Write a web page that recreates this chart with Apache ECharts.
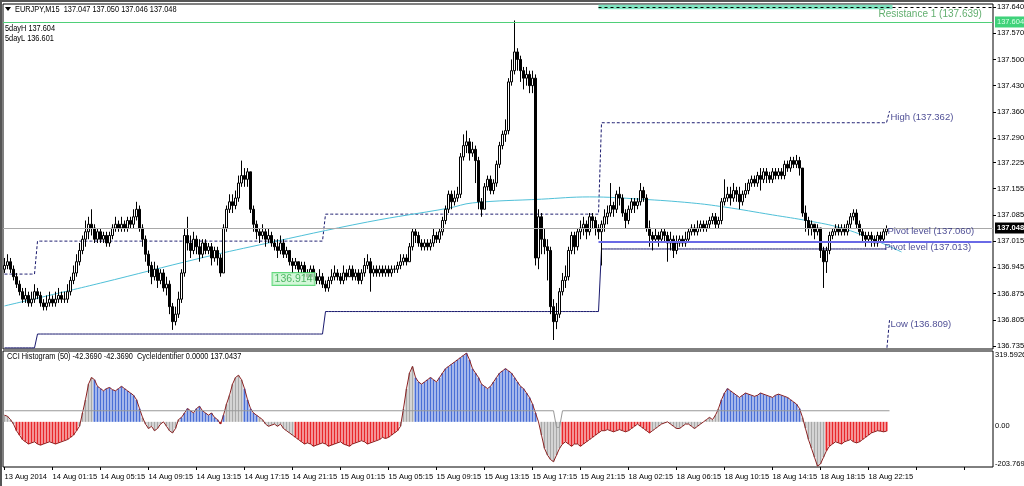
<!DOCTYPE html>
<html><head><meta charset="utf-8">
<script src="https://cdn.jsdelivr.net/npm/echarts@6/dist/echarts.min.js"></script>
<style>html,body{margin:0;padding:0;background:#fff}#c{width:1024px;height:486px}</style>
</head><body><div id="c"></div>
<script>
// ---- price bars (M15), open of each bar = previous close ----
const firstOpen = 136.94;
const closes = [
136.95,136.96,136.94,136.92,136.90,136.88,136.86,136.87,136.85,136.86,
136.88,136.87,136.85,136.84,136.85,136.86,136.85,136.86,136.87,136.86,
136.86,136.88,136.91,136.93,136.96,136.99,137.02,137.04,137.06,137.05,
137.02,137.04,137.02,137.03,137.01,137.03,137.05,137.06,137.05,137.06,
137.05,137.07,137.06,137.08,137.10,137.05,137.02,136.98,136.95,136.92,
136.94,136.91,136.93,136.89,136.90,136.84,136.80,136.82,136.86,136.93,
137.03,137.01,136.99,137.02,137.00,136.98,137.01,136.99,137.00,136.97,
136.99,136.97,136.93,137.05,137.10,137.12,137.11,137.13,137.17,137.19,
137.18,137.20,137.10,137.06,137.04,137.03,137.04,137.02,137.03,137.01,
137.00,136.99,137.01,136.98,136.99,136.96,136.95,136.96,136.94,136.95,
136.93,136.92,136.94,136.92,136.91,136.92,136.90,136.89,136.91,136.92,
136.93,136.92,136.91,136.93,136.92,136.94,136.92,136.93,136.91,136.93,
136.95,136.96,136.93,136.94,136.93,136.94,136.93,136.94,136.93,136.94,
136.94,136.95,136.96,136.97,136.96,137.00,137.04,137.03,137.01,137.00,
137.01,137.00,137.01,137.03,137.02,137.04,137.07,137.10,137.14,137.12,
137.13,137.14,137.24,137.27,137.28,137.25,137.26,137.23,137.12,137.10,
137.16,137.18,137.15,137.17,137.22,137.27,137.30,137.31,137.44,137.47,
137.52,137.50,137.47,137.45,137.46,137.43,137.45,136.97,137.08,137.02,
137.00,136.99,136.84,136.80,136.82,136.88,136.91,136.92,136.99,137.03,
137.00,137.04,137.05,137.06,137.04,137.08,137.07,137.05,137.04,137.06,
137.08,137.09,137.11,137.10,137.14,137.13,137.09,137.07,137.10,137.12,
137.11,137.12,137.15,137.13,137.05,137.03,137.02,137.03,137.02,137.04,
137.03,137.01,137.02,136.99,137.01,137.02,137.01,137.02,137.04,137.05,
137.04,137.05,137.06,137.05,137.06,137.07,137.08,137.06,137.07,137.12,
137.13,137.14,137.13,137.15,137.14,137.12,137.14,137.15,137.17,137.18,
137.17,137.19,137.18,137.20,137.19,137.18,137.20,137.19,137.20,137.19,
137.22,137.21,137.23,137.22,137.23,137.21,137.09,137.07,137.05,137.06,
137.04,137.05,136.99,136.96,136.99,137.03,137.04,137.05,137.04,137.05,
137.04,137.06,137.08,137.09,137.06,137.04,137.03,137.02,137.03,137.02,
137.01,137.03,137.02,137.04,137.048];
const highs = [
136.97,136.98,136.97,136.95,136.93,136.91,136.89,136.89,136.88,136.88,
136.90,136.89,136.88,136.86,136.87,136.88,136.87,136.88,136.89,136.88,
136.88,136.90,136.92,136.95,136.98,137.01,137.03,137.07,137.08,137.10,
137.06,137.05,137.05,137.04,137.04,137.04,137.06,137.08,137.07,137.08,
137.07,137.08,137.08,137.10,137.12,137.11,137.06,137.03,136.99,136.96,
136.96,136.95,136.94,136.94,136.92,136.91,136.85,136.84,136.88,136.94,
137.05,137.08,137.03,137.04,137.03,137.02,137.02,137.02,137.01,137.01,
137.00,137.00,136.98,137.06,137.11,137.14,137.14,137.15,137.19,137.23,
137.21,137.21,137.20,137.11,137.07,137.05,137.06,137.05,137.05,137.04,
137.02,137.02,137.03,137.02,137.00,136.99,136.97,136.97,136.96,136.96,
136.96,136.94,136.95,136.95,136.93,136.94,136.93,136.91,136.92,136.94,
136.95,136.94,136.93,136.95,136.94,136.95,136.95,136.94,136.94,136.94,
136.97,136.98,136.97,136.95,136.95,136.95,136.95,136.95,136.95,136.95,
136.95,136.96,136.98,136.98,136.98,137.01,137.05,137.05,137.04,137.02,
137.02,137.02,137.02,137.05,137.04,137.05,137.08,137.11,137.15,137.15,
137.15,137.16,137.25,137.30,137.31,137.29,137.28,137.27,137.24,137.13,
137.17,137.19,137.19,137.18,137.23,137.28,137.31,137.34,137.45,137.50,
137.604,137.53,137.51,137.48,137.48,137.47,137.47,137.46,137.10,137.09,
137.05,137.02,137.00,136.86,136.85,136.89,136.93,136.95,137.00,137.04,
137.04,137.05,137.07,137.08,137.07,137.09,137.09,137.08,137.06,137.07,
137.10,137.11,137.17,137.12,137.15,137.16,137.14,137.10,137.11,137.13,
137.13,137.13,137.17,137.16,137.14,137.07,137.04,137.05,137.04,137.05,
137.05,137.04,137.04,137.03,137.03,137.03,137.03,137.04,137.05,137.06,
137.06,137.07,137.07,137.07,137.07,137.08,137.09,137.09,137.08,137.13,
137.18,137.16,137.16,137.17,137.16,137.16,137.15,137.17,137.18,137.19,
137.19,137.20,137.21,137.21,137.21,137.20,137.21,137.21,137.21,137.21,
137.23,137.23,137.24,137.24,137.245,137.24,137.21,137.11,137.08,137.07,
137.06,137.06,137.05,137.00,137.00,137.04,137.05,137.06,137.06,137.06,
137.06,137.07,137.09,137.10,137.10,137.07,137.05,137.04,137.04,137.04,
137.03,137.04,137.04,137.05,137.057];
const lows = [
136.93,136.94,136.93,136.91,136.89,136.87,136.85,136.85,136.84,136.84,
136.85,136.86,136.84,136.83,136.83,136.84,136.84,136.84,136.85,136.85,
136.85,136.85,136.87,136.90,136.92,136.95,136.98,137.00,137.02,137.03,
137.01,137.01,137.01,137.01,137.00,137.00,137.02,137.04,137.04,137.04,
137.04,137.04,137.05,137.05,137.07,137.04,137.00,136.96,136.93,136.90,
136.91,136.89,136.90,136.88,136.87,136.82,136.778,136.79,136.81,136.85,
136.92,136.99,136.97,136.98,136.98,136.96,136.97,136.98,136.98,136.95,
136.96,136.95,136.92,136.93,137.04,137.09,137.09,137.10,137.12,137.16,
137.16,137.16,137.09,137.04,137.02,137.01,137.02,137.00,137.01,137.00,
136.99,136.97,136.98,136.97,136.97,136.95,136.93,136.94,136.93,136.93,
136.92,136.91,136.91,136.91,136.90,136.90,136.89,136.88,136.88,136.90,
136.91,136.91,136.90,136.90,136.91,136.92,136.91,136.91,136.90,136.90,
136.92,136.94,136.88,136.92,136.92,136.92,136.92,136.92,136.92,136.92,
136.93,136.93,136.94,136.95,136.95,136.96,136.99,137.01,137.00,136.99,
136.99,136.99,136.99,137.00,137.01,137.01,137.03,137.06,137.09,137.10,
137.11,137.12,137.13,137.23,137.25,137.23,137.24,137.17,137.10,137.08,
137.10,137.15,137.14,137.14,137.16,137.21,137.26,137.28,137.30,137.43,
137.46,137.47,137.44,137.42,137.43,137.41,137.41,136.95,136.94,136.98,
136.98,136.91,136.82,136.751,136.78,136.81,136.87,136.89,136.91,136.98,
136.98,136.99,137.02,137.03,137.02,137.03,137.05,137.03,137.02,136.95,
137.04,137.06,137.08,137.08,137.09,137.11,137.08,137.05,137.06,137.09,
137.09,137.10,137.11,137.12,137.04,137.00,136.99,137.01,137.00,137.01,
137.01,136.96,136.99,136.97,136.98,137.00,137.00,137.00,137.01,137.03,
137.03,137.03,137.04,137.04,137.04,137.05,137.06,137.05,137.05,137.06,
137.11,137.12,137.11,137.12,137.12,137.10,137.11,137.13,137.14,137.16,
137.16,137.16,137.15,137.17,137.17,137.17,137.17,137.18,137.18,137.18,
137.18,137.20,137.20,137.21,137.21,137.19,137.08,137.04,137.03,137.03,
137.02,137.03,136.97,136.89,136.93,136.98,137.02,137.03,137.03,137.03,
137.03,137.03,137.05,137.07,137.05,137.03,137.01,137.00,137.01,137.00,
137.00,137.00,137.01,137.01,137.03];

// ---- time axis ----
const barCount = 330;           // bars + empty right margin
const tickEvery = 16;
const timeTicks = ["13 Aug 2014","14 Aug 01:15","14 Aug 05:15","14 Aug 09:15","14 Aug 13:15","14 Aug 17:15","14 Aug 21:15","15 Aug 01:15","15 Aug 05:15","15 Aug 09:15","15 Aug 13:15","15 Aug 17:15","15 Aug 21:15","18 Aug 02:15","18 Aug 06:15","18 Aug 10:15","18 Aug 14:15","18 Aug 18:15","18 Aug 22:15"];

// ---- price axis ----
const priceTicks = [137.640,137.570,137.500,137.430,137.360,137.290,137.225,137.155,137.085,137.015,136.945,136.875,136.805,136.735];
const priceMin = 136.727, priceMax = 137.648;
const lastPrice = 137.048;
const fiveDayHigh = 137.604, fiveDayLow = 136.601;
const resistance1 = 137.639;
const pivotA = 137.060, pivotB = 137.013;
const dayHighLabel = 137.362, dayLowLabel = 136.809;
const markedLow = 136.914;

// ---- daily level step lines ----
const dayStarts = [0, 11, 107, 199];
const dayHighLevels = [136.927, 137.015, 137.087, 137.331];
const dayLowLevels = [136.730, 136.767, 136.827, 136.994];

// ---- smooth trend curve (bar index, price) ----
const trendPoints = [[0,136.842],[32,136.903],[65,136.969],[85,137.005],[121,137.066],[148,137.103],[156,137.117],[179,137.127],[195,137.133],[212,137.127],[229,137.117],[240,137.106],[256,137.085],[268,137.069],[279,137.050],[290,137.018],[299,136.986]];

// ---- CCI histogram (50) ----
const cciValues = [
30,25,10,-10,
-40,-60,-80,-90,-100,-95,-90,-100,-105,-100,-95,-90,-95,-100,-95,-90,-85,-80,-70,-60,-40,-20,
40,100,170,200,190,
160,150,140,150,155,145,140,150,160,150,140,130,120,100,60,
20,-10,-30,-20,-40,-30,-10,0,-20,-40,-50,-30,10,20,40,60,50,40,60,70,50,40,30,40,20,
10,-10,30,80,120,170,200,210,190,150,
100,60,40,30,20,10,-10,-20,-15,-10,
-20,-10,-30,-40,-50,-60,-70,-80,
-90,-100,-95,-100,-110,-105,-100,-95,-100,-110,-105,-100,-95,-90,-100,-105,-110,-100,-95,-90,-85,-90,-100,-95,-90,-85,-80,-70,-75,-70,-60,-50,-40,-20,
60,150,220,250,200,180,170,180,190,200,190,180,200,220,240,250,
260,270,280,290,300,310,280,240,220,200,170,160,150,160,180,200,220,230,240,230,220,200,
180,160,150,130,110,80,40,0,-60,-120,
-150,-170,-180,-150,-120,-100,-90,-100,-110,-100,
-100,-110,-100,-90,-80,-70,-60,-50,-40,-40,
-35,-40,-45,-40,-35,-40,-45,-40,-30,-20,-10,-20,-30,-40,-50,
-40,-30,-20,-10,-5,0,-10,-20,-30,-30,-20,-10,-10,-20,-30,-20,-10,0,10,20,10,30,60,
100,130,150,140,130,120,110,120,130,125,120,115,120,130,125,120,115,110,120,125,120,115,110,100,90,80,60,
20,-30,-80,-120,-160,-200,-190,-160,-130,-110,-100,-90,-95,-100,-90,-85,-80,-90,-95,-90,-80,-70,-60,-50,-45,-40,-42,-45,-42.369];
// bars drawn in the neutral (gray) colour: [first, last] bar index
const cciNeutral = [[0,3],[25,29],[46,58],[74,79],[85,96],[132,136],[179,185],[216,238],[266,273]];
const cciMax = 319.5926, cciMin = -203.7690;
// CycleIdentifier level line: [first bar, last bar, value]
const cycleSegments = [[0,183,50],[184,185,-25],[186,295,50]];

// ================= build =================
const FONT = "'Liberation Sans',Arial,sans-serif";
const cats = Array.from({length: barCount}, (_, i) => i);
const candles = closes.map((c, i) => {
  const o = i === 0 ? firstOpen : closes[i - 1];
  return [o, c, lows[i], highs[i]];
});
function stepLine(levels) {
  const out = [];
  for (let i = 0; i < closes.length; i++) {
    let d = 0;
    for (let k = 0; k < dayStarts.length; k++) if (i >= dayStarts[k]) d = k;
    out.push([i, levels[d]]);
  }
  return out;
}
const highLine = stepLine(dayHighLevels); highLine.push([closes.length, dayHighLabel]);
const lowLine = stepLine(dayLowLevels);
const lastIdx = closes.length - 1;
const cycleLine = [];
cycleSegments.forEach(s => { cycleLine.push([s[0], s[2]]); if (s[1] !== s[0]) cycleLine.push([s[1], s[2]]); });

const isNeutral = i => cciNeutral.some(r => i >= r[0] && i <= r[1]);
const cciColor = (v, i) => isNeutral(i) ? '#a9a9a9' : (v >= 0 ? '#4a6fd6' : '#e8262a');

const chart = echarts.init(document.getElementById('c'), null, {renderer: 'canvas'});
const txt = {fontFamily: FONT, fontSize: 7.5, color: '#000'};
chart.setOption({
  animation: false,
  backgroundColor: '#fff',
  grid: [
    {left: 3, right: 31, top: 4, height: 345, show: true, borderColor: '#000', borderWidth: 1, backgroundColor: '#fff', outerBoundsMode: 'none', containLabel: false},
    {left: 3, right: 31, top: 351, height: 116, show: true, borderColor: '#000', borderWidth: 1, backgroundColor: '#fff', outerBoundsMode: 'none', containLabel: false}
  ],
  xAxis: [
    {type: 'category', data: cats, gridIndex: 0, boundaryGap: true, axisLine: {show: false, onZero: false}, axisTick: {show: false}, axisLabel: {show: false}},
    {type: 'category', data: cats, gridIndex: 1, boundaryGap: true, axisLine: {show: false, onZero: false},
     axisTick: {show: true, interval: (i) => i % tickEvery === 0, alignWithLabel: true, length: 3, inside: false, lineStyle: {color: '#000'}},
     axisLabel: {show: true, interval: (i) => i % tickEvery === 0, align: 'left', margin: 6, hideOverlap: false, ...txt,
       formatter: (v) => timeTicks[Math.floor(v / tickEvery)] || ''}}
  ],
  yAxis: [
    {type: 'value', gridIndex: 0, position: 'right', min: priceMin, max: priceMax, splitLine: {show: false},
     axisLine: {show: false}, axisTick: {show: true, customValues: priceTicks, length: 3, lineStyle: {color: '#000'}},
     axisLabel: {show: true, customValues: priceTicks, margin: 4, ...txt, formatter: v => v.toFixed(3)}},
    {type: 'value', gridIndex: 1, position: 'right', min: cciMin, max: cciMax, splitLine: {show: false},
     axisLine: {show: false}, axisTick: {show: false},
     axisLabel: {show: true, customValues: [cciMax, 0, cciMin], margin: 2, ...txt,
       formatter: v => v === 0 ? '{m|0.00}' : (v > 0 ? '{t|' + v.toFixed(4) + '}' : '{b|' + v.toFixed(4) + '}'),
       rich: {t: {fontFamily: FONT, fontSize: 7.5, padding: [7, 0, 0, 0]}, m: {fontFamily: FONT, fontSize: 7.5, padding: [8, 0, 0, 0]}, b: {fontFamily: FONT, fontSize: 7.5, padding: [0, 0, 6, 0]}}}}
  ],
  series: [
    {type: 'candlestick', name: 'EURJPY', xAxisIndex: 0, yAxisIndex: 0, data: candles, barWidth: 2,
     itemStyle: {color: '#fff', color0: '#000', borderColor: '#000', borderColor0: '#000', borderWidth: 1},
     markLine: {symbol: 'none', silent: true, animation: false, data: [
       {yAxis: lastPrice, lineStyle: {color: '#a8a8a8', width: 1, type: 'solid'},
        label: {show: true, position: 'end', distance: 2, formatter: lastPrice.toFixed(3), backgroundColor: '#000', color: '#fff', fontFamily: FONT, fontSize: 7.5, fontWeight: 'bold', padding: [2, 2, 1, 2]}},
       {yAxis: fiveDayHigh, lineStyle: {color: '#4fcf78', width: 1, type: 'solid'},
        label: {show: true, position: 'end', distance: 2, formatter: fiveDayHigh.toFixed(3), backgroundColor: '#3fd27a', color: '#d8ffe6', fontFamily: FONT, fontSize: 7.5, padding: [2, 2, 1, 2]}},
       [{coord: [198, pivotB], lineStyle: {color: '#6a6ae6', width: 2, type: 'solid'}, label: {show: false}}, {coord: [barCount - 1, pivotB]}],
       [{coord: [198, resistance1], lineStyle: {color: '#000', width: 1, type: [3, 3]}, label: {show: false}}, {coord: [barCount - 1, resistance1]}]
     ]},
     markArea: {silent: true, itemStyle: {color: '#7fe3bf'}, data: [[{coord: [198, resistance1 - 0.005]}, {coord: [296, resistance1 + 0.007]}]]}
    },
    {type: 'line', name: 'dayHigh', xAxisIndex: 0, yAxisIndex: 0, data: highLine, symbol: 'none', lineStyle: {color: '#1a1a6e', width: 1, type: [3, 2]}, z: 1},
    {type: 'line', name: 'dayLow', xAxisIndex: 0, yAxisIndex: 0, data: lowLine, symbol: 'none', lineStyle: {color: '#1a1a6e', width: 1}, z: 1},
    {type: 'line', name: 'todayLow', xAxisIndex: 0, yAxisIndex: 0, data: [[lastIdx, priceMin - 0.01], [lastIdx + 1, dayLowLabel - 0.005]], symbol: 'none', lineStyle: {color: '#1a1a6e', width: 1, type: [3, 2]}, z: 1},
    {type: 'line', name: 'trend', xAxisIndex: 0, yAxisIndex: 0, data: trendPoints, symbol: 'none', smooth: 0.4, lineStyle: {color: '#4fc0d8', width: 1}, z: 1},
    {type: 'scatter', name: 'labels', xAxisIndex: 0, yAxisIndex: 0, symbolSize: 0, silent: true, z: 5,
     data: [
       {value: [291, 137.621], label: {formatter: 'Resistance 1 (' + resistance1.toFixed(3) + ')', color: '#3a9a4a', fontSize: 10}},
       {value: [lastIdx + 1, 137.346], label: {formatter: 'High (' + dayHighLabel.toFixed(3) + ')', color: '#22227a'}},
       {value: [lastIdx, 137.042], label: {formatter: 'Pivot level (' + pivotA.toFixed(3) + ')', color: '#22227a'}},
       {value: [lastIdx - 1, 136.997], label: {formatter: 'Pivot level (' + pivotB.toFixed(3) + ')', color: '#22227a'}},
       {value: [lastIdx + 1, 136.794], label: {formatter: 'Low (' + dayLowLabel.toFixed(3) + ')', color: '#22227a'}}
     ],
     label: {show: true, position: 'right', distance: 1, fontFamily: FONT, fontSize: 9.5}},
    {type: 'scatter', name: 'markedLow', xAxisIndex: 0, yAxisIndex: 0, symbolSize: 0, silent: true, z: 6,
     data: [[105, markedLow]],
     label: {show: true, position: 'left', distance: 5, formatter: markedLow.toFixed(3), color: '#2fa84a', backgroundColor: '#c9f5cf', borderColor: '#3fcf5f', borderWidth: 1, padding: [1, 2, 0, 2], fontFamily: FONT, fontSize: 10.5}},
    {type: 'bar', name: 'CCI', xAxisIndex: 1, yAxisIndex: 1, data: cciValues.map((v, i) => ({value: v, itemStyle: {color: cciColor(v, i)}})), barWidth: 2},
    {type: 'line', name: 'CCIline', xAxisIndex: 1, yAxisIndex: 1, data: cciValues, symbol: 'none', lineStyle: {color: '#8a2020', width: 1}, z: 3},
    {type: 'line', name: 'CycleIdentifier', xAxisIndex: 1, yAxisIndex: 1, data: cycleLine, symbol: 'none', lineStyle: {color: '#999', width: 1}, z: 4}
  ],
  graphic: [
    {type: 'rect', left: 0, top: 0, shape: {width: 1024, height: 2}, style: {fill: '#555'}, silent: true},
    {type: 'rect', left: 0, top: 0, shape: {width: 2, height: 486}, style: {fill: '#555'}, silent: true},
    {type: 'polygon', shape: {points: [[5, 7], [11, 7], [8, 11]]}, style: {fill: '#000'}, silent: true},
    {type: 'text', left: 15, top: 5, scaleX: 0.82, style: {text: 'EURJPY,M15  137.047 137.050 137.046 137.048', font: "9px " + FONT, fill: '#000'}},
    {type: 'text', left: 5, top: 24, scaleX: 0.82, style: {text: '5dayH ' + fiveDayHigh.toFixed(3), font: "9px " + FONT, fill: '#000'}},
    {type: 'text', left: 5, top: 34, scaleX: 0.82, style: {text: '5dayL ' + fiveDayLow.toFixed(3), font: "9px " + FONT, fill: '#000'}},
    {type: 'text', left: 7, top: 352, scaleX: 0.82, style: {text: 'CCI Histogram (50) -42.3690 -42.3690  CycleIdentifier 0.0000 137.0437', font: "9px " + FONT, fill: '#000'}}
  ]
});
</script></body></html>
